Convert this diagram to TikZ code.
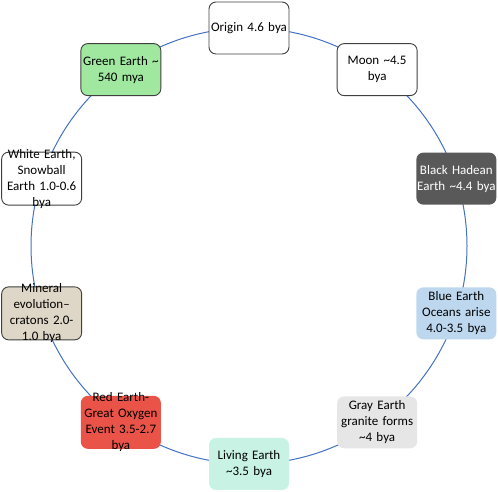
\documentclass[tikz,border=0pt]{standalone}
\usepackage{fontspec}
\setmainfont{Carlito}
\usepackage{tikz}
\usetikzlibrary{calc,backgrounds}
\definecolor{ringblue}{RGB}{68,114,196}
\definecolor{greenearth}{RGB}{160,232,160}
\definecolor{hadean}{RGB}{89,89,89}
\definecolor{oceanblue}{RGB}{189,215,238}
\definecolor{granitegray}{RGB}{231,230,230}
\definecolor{livingmint}{RGB}{200,242,228}
\definecolor{oxygenred}{RGB}{234,84,72}
\definecolor{mineraltan}{RGB}{222,214,198}

\begin{document}
\begin{tikzpicture}[x=1pt, y=1pt,
    stage/.style={rectangle, draw=black!75, line width=0.9pt, rounded corners=7pt, fill=white, minimum width=80pt, minimum height=52pt, inner ysep=1pt, inner xsep=-4pt, text width=88pt, align=center, font=\fontsize{13}{16}\selectfont},
    flat/.style={stage, draw=none},
    overfull/.style={text height=5pt, text depth=46pt},
    ring/.style={ringblue, line width=1pt}
]
    \useasboundingbox (0,0) rectangle (498,492);
    \coordinate (hub) at (249,246);

    % Stages round the cycle
    \node[stage] (origin) at ($(hub)+(90:218)$) {Origin 4.6 bya};
    \node[stage] (moon) at ($(hub)+(54:218)$) {Moon \textasciitilde4.5\\bya};
    \node[flat, fill=hadean, text=white] (hadean) at ($(hub)+(18:218)$) {Black Hadean\\Earth \textasciitilde4.4 bya};
    \node[flat, fill=oceanblue] (oceans) at ($(hub)+(-18:218)$) {Blue Earth\\Oceans arise\\4.0-3.5 bya};
    \node[flat, fill=granitegray] (granite) at ($(hub)+(-54:218)$) {Gray Earth\\granite forms\\\textasciitilde4 bya};
    \node[flat, fill=livingmint] (living) at ($(hub)+(-90:218)$) {Living Earth\\\textasciitilde3.5 bya};
    \node[flat, fill=oxygenred, overfull] (oxygen) at ($(hub)+(-126:218)$) {Red Earth-\\Great Oxygen\\Event 3.5-2.7\\bya};
    \node[stage, fill=mineraltan, overfull] (mineral) at ($(hub)+(-162:218)$) {Mineral\\evolution–\\cratons 2.0-\\1.0 bya};
    \node[stage, overfull] (snowball) at ($(hub)+(162:218)$) {White Earth,\\Snowball\\Earth 1.0-0.6\\bya};
    \node[stage, fill=greenearth] (green) at ($(hub)+(126:218)$) {Green Earth \textasciitilde\\540 mya};

    % Ring behind the stages
    \begin{scope}[on background layer]
        \foreach \from [count=\i from 0] in {origin,moon,hadean,oceans,granite,living,oxygen,mineral,snowball,green}
            \draw[ring] (\from.center) arc[start angle={90-36*\i}, delta angle=-36, radius=218];
    \end{scope}

\end{tikzpicture}
\end{document}
